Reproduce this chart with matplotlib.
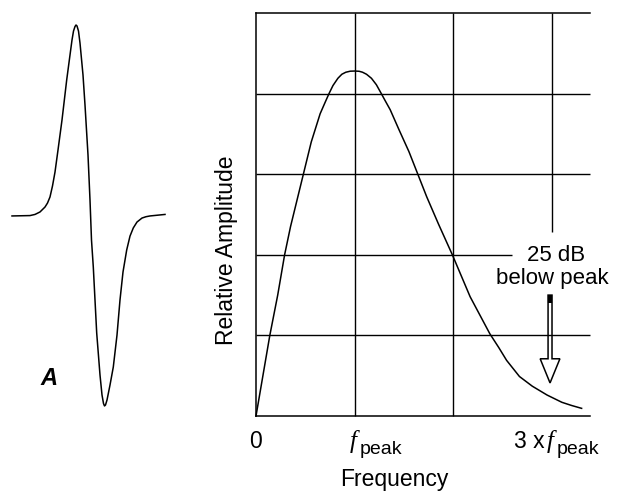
import matplotlib
matplotlib.use("Agg")
import matplotlib.pyplot as plt

plt.rcParams['font.family'] = ['Liberation Sans', 'DejaVu Sans']

# ---------------- data ----------------
# source wavelet (left panel), time in arbitrary units, amplitude normalised to peak
wav_t = [-7.8, -6.0, -5.5, -5.0, -4.5, -4.25, -4.0, -3.75, -3.5, -3.2, -2.8, -2.33, -2.0,
         -1.8, -1.65, -1.5, -1.4, -1.3, -1.15, -1.0, -0.7, -0.5, -0.2, 0.0, 0.15, 0.33,
         0.67, 1.0, 1.2, 1.35, 1.45, 1.55, 1.7, 2.0, 2.33, 2.7, 3.0, 3.3, 3.67, 4.0,
         4.33, 4.7, 5.2, 5.6, 6.0, 7.5]
wav_a = [-0.005, -0.003, 0.003, 0.016, 0.042, 0.063, 0.095, 0.153, 0.226, 0.342, 0.5,
         0.711, 0.842, 0.921, 0.968, 0.992, 1.0, 0.995, 0.968, 0.905, 0.737, 0.579,
         0.316, 0.079, -0.132, -0.274, -0.621, -0.842, -0.947, -0.992, -1.005, -1.0,
         -0.974, -0.895, -0.8, -0.632, -0.447, -0.3, -0.184, -0.111, -0.068, -0.037,
         -0.016, -0.009, -0.005, 0.003]

# amplitude spectrum (right panel), frequency in units of f_peak
freq = [0, 0.07, 0.14, 0.22, 0.29, 0.35, 0.42, 0.48, 0.56, 0.65, 0.70, 0.74, 0.78, 0.83,
        0.87, 0.91, 0.955, 1.0, 1.045, 1.08, 1.12, 1.17, 1.22, 1.27, 1.31, 1.36, 1.45,
        1.55, 1.64, 1.73, 1.85, 1.99, 2.08, 2.17, 2.27, 2.37, 2.46, 2.54, 2.67, 2.80,
        2.95, 3.1, 3.2, 3.30]
amp = [0, 0.5, 1.0, 1.5, 2.0, 2.35, 2.70, 3.0, 3.4, 3.75, 3.89, 4.0, 4.10, 4.19,
       4.24, 4.265, 4.278, 4.28, 4.277, 4.265, 4.24, 4.19, 4.11, 4.0, 3.91, 3.80, 3.55,
       3.28, 3.0, 2.72, 2.38, 2.0, 1.74, 1.48, 1.25, 1.02, 0.85, 0.69, 0.49, 0.37,
       0.26, 0.17, 0.13, 0.095]

hgrid = [1, 2, 3, 4]
vgrid = [1, 2, 3]
arrow_x, arrow_top, arrow_tip = 2.98, 1.50, 0.41

# ---------------- figure ----------------
fig = plt.figure(figsize=(6.2, 4.91), dpi=100)

#Left panel: wavelet
axw = fig.add_axes([0, 0, 200/620, 1])
axw.plot(wav_t, wav_a, color='k', lw=1.1, solid_joinstyle='round')
axw.set_xlim(-9, 11)
axw.set_ylim(-1.4526, 1.1316)
axw.axis('off')
axw.text(-4.1, -0.86, 'A', fontsize=17, fontweight='bold', fontstyle='italic',
         ha='center', va='center')

#Right panel: spectrum
ax = fig.add_axes([256/620, 75/491, 334/620, 403/491])
ax.set_xlim(0, 3.385)
ax.set_ylim(0, 5)
for s in ['left', 'bottom', 'top']:
    ax.spines[s].set_linewidth(1.1)
ax.spines['right'].set_visible(False)
ax.set_xticks([])
ax.set_yticks([])

for y in hgrid:
    xmax = 2.59 if y == 2 else 3.385
    ax.hlines(y, 0, xmax, color='k', lw=1.0, clip_on=False)
for x in vgrid:
    ymin = 2.28 if x == 3 else 0
    ax.vlines(x, ymin, 5, color='k', lw=1.0, clip_on=False)

ax.plot(freq, amp, color='k', lw=1.1, solid_joinstyle='round', clip_on=False)

ax.arrow(arrow_x, arrow_top, 0, arrow_tip - arrow_top, width=0.04, head_width=0.2,
         head_length=0.3, length_includes_head=True, fc='white', ec='k', lw=1.1)
ax.vlines(arrow_x, arrow_top - 0.1, arrow_top, color='k', lw=3)

ax.text(3.04, 1.92, '25 dB', fontsize=16, ha='center', va='baseline')
ax.text(3.0, 1.64, 'below peak', fontsize=16, ha='center', va='baseline')

#Tick labels
lab = dict(xycoords=('data', 'axes fraction'), textcoords='offset points', va='baseline')
ax.annotate('0', xy=(0, 0), xytext=(0, -23), ha='center', fontsize=16.5, **lab)
for x in [1, 3]:
    ax.annotate('f', xy=(x, 0), xytext=(-1, -23), ha='center', fontsize=18,
                family='Liberation Serif', style='italic', **lab)
    ax.annotate('peak', xy=(x, 0), xytext=(3.5, -27), ha='left', fontsize=14, **lab)
ax.annotate('3 x', xy=(3, 0), xytext=(-5, -23), ha='right', fontsize=16.5, **lab)

fig.text(394/620, 1 - 486/491, 'Frequency', fontsize=16.5, ha='center', va='baseline')
fig.text(226/620, 1 - 250/491, 'Relative Amplitude', fontsize=16.5, rotation=90,
         ha='center', va='center')

plt.savefig('out.png', dpi=100)
plt.close()
